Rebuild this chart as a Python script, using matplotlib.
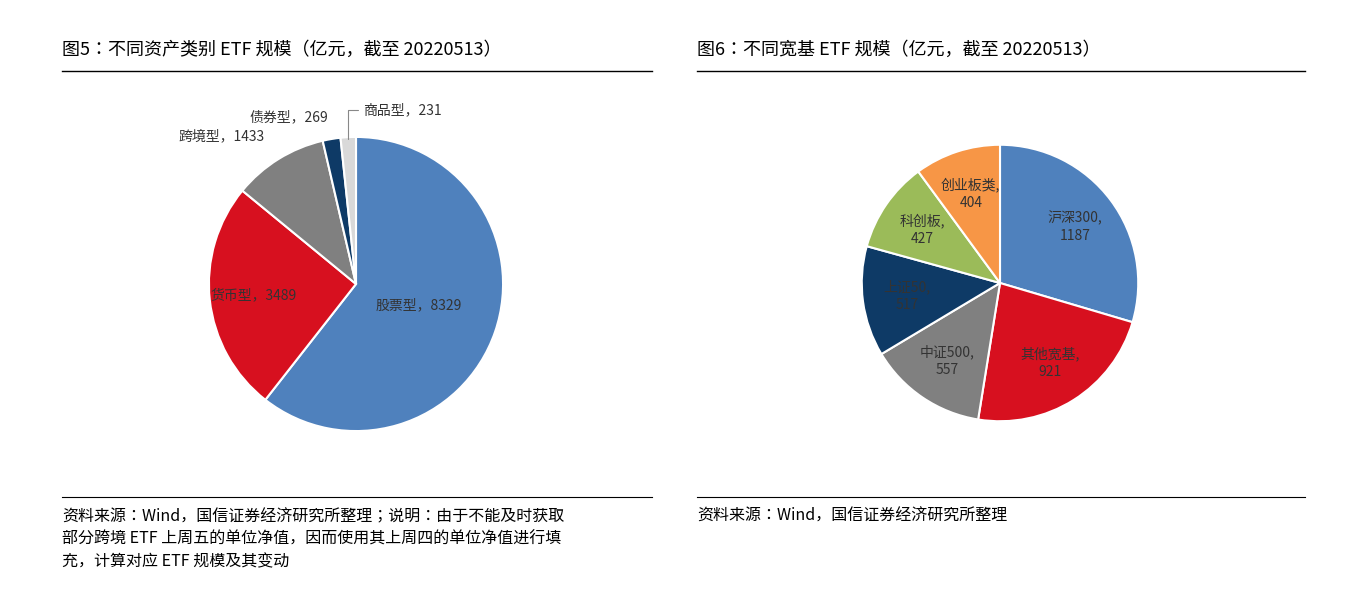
import numpy as np
import matplotlib.pyplot as plt
from matplotlib import font_manager

# pick whichever CJK family matplotlib actually registered
cjk = [f.name for f in font_manager.fontManager.ttflist if 'CJK' in f.name]
plt.rcParams['font.family'] = 'sans-serif'
plt.rcParams['font.sans-serif'] = sorted(set(cjk), key=lambda n: ('SC' not in n, n)) + ['DejaVu Sans']

# data
left_labels = ['股票型', '货币型', '跨境型', '债券型', '商品型']
left_values = [8329, 3489, 1433, 269, 231]
left_colors = ['#4F81BD', '#D7101F', '#808080', '#0E3A66', '#D9D9D9']
left_dist = [0.45, 0.7, 1.18, 1.15, 1.25]

right_labels = ['沪深300', '其他宽基', '中证500', '上证50', '科创板', '创业板类']
right_values = [1187, 921, 557, 517, 427, 404]
right_colors = ['#4F81BD', '#D7101F', '#808080', '#0E3A66', '#9BBB59', '#F79646']

fig = plt.figure(figsize=(13.58, 6), dpi=100)
W, H = 1358, 600


def px_axes(cx, cy, r):
    return fig.add_axes([(cx - r) / W, (H - cy - r) / H, 2 * r / W, 2 * r / H])


def draw_pie(ax, values, colors):
    wedges, _ = ax.pie(values, colors=colors, startangle=90, counterclock=False,
                       radius=1, wedgeprops=dict(edgecolor='white', linewidth=1.5))
    ax.set_xlim(-1.02, 1.02)
    ax.set_ylim(-1.02, 1.02)
    ax.set_aspect('equal')
    ax.axis('off')
    return wedges


# left pie
ax1 = px_axes(356, 284, 150)
w1 = draw_pie(ax1, left_values, left_colors)
for i, w in enumerate(w1):
    ang = np.deg2rad((w.theta1 + w.theta2) / 2)
    d = left_dist[i]
    x, y = d * np.cos(ang), d * np.sin(ang)
    txt = f'{left_labels[i]}，{left_values[i]}'
    if i < 2:
        ax1.text(x, y, txt, ha='center', va='center', fontsize=10, color='#333333')
    elif i == 4:
        ax1.annotate(txt, xy=(0.97 * np.cos(ang), 0.97 * np.sin(ang)), xytext=(0.05, 1.18),
                     ha='left', va='center', fontsize=10, color='#333333',
                     arrowprops=dict(arrowstyle='-', color='#888888', lw=0.8,
                                     connectionstyle='angle,angleA=0,angleB=90'),
                     annotation_clip=False)
    else:
        ax1.text(x, y, txt, ha='right', va='center', fontsize=10, color='#333333')

# right pie
ax2 = px_axes(1000, 283, 141)
w2 = draw_pie(ax2, right_values, right_colors)
for i, w in enumerate(w2):
    ang = np.deg2rad((w.theta1 + w.theta2) / 2)
    x, y = 0.68 * np.cos(ang), 0.68 * np.sin(ang)
    ax2.text(x, y, f'{right_labels[i]},\n{right_values[i]}', ha='center', va='center',
             fontsize=10, color='#333333', linespacing=1.3)

# titles, rules and notes
fig.text(62 / W, 1 - 50 / H, '图5：不同资产类别 ETF 规模（亿元，截至 20220513）', fontsize=13,
         va='center', ha='left')
fig.text(697 / W, 1 - 50 / H, '图6：不同宽基 ETF 规模（亿元，截至 20220513）', fontsize=13,
         va='center', ha='left')
for x0, x1 in [(62, 652), (697, 1305)]:
    fig.add_artist(plt.Line2D([x0 / W, x1 / W], [1 - 71 / H] * 2, color='black', lw=1))
    fig.add_artist(plt.Line2D([x0 / W, x1 / W], [1 - 497 / H] * 2, color='black', lw=0.8))

fig.text(62 / W, 1 - 508 / H,
         '资料来源：Wind，国信证券经济研究所整理；说明：由于不能及时获取\n'
         '部分跨境 ETF 上周五的单位净值，因而使用其上周四的单位净值进行填\n'
         '充，计算对应 ETF 规模及其变动',
         fontsize=11.5, va='top', ha='left', linespacing=1.45)
fig.text(697 / W, 1 - 508 / H, '资料来源：Wind，国信证券经济研究所整理', fontsize=11.5,
         va='top', ha='left')

fig.savefig('out.png', dpi=100)
